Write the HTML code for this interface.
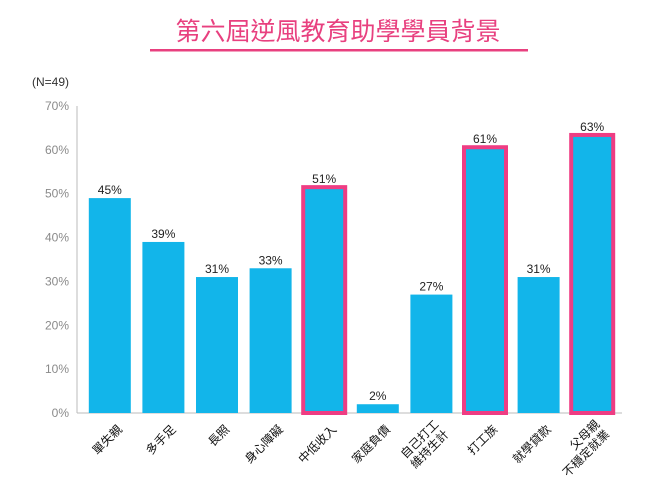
<!DOCTYPE html>
<html><head><meta charset="utf-8">
<style>
body{margin:0;background:#fff;width:660px;height:491px;overflow:hidden;font-family:"Liberation Sans","Noto Sans CJK TC",sans-serif;}
</style></head>
<body>
<svg width="660" height="491" xmlns="http://www.w3.org/2000/svg">
<text x="338" y="40" text-anchor="middle" font-size="25" fill="#e8407f" font-family="Liberation Sans, Noto Sans CJK TC, sans-serif">第六屆逆風教育助學學員背景</text>
<rect x="150" y="49" width="378" height="2.5" fill="#e8407f"/>
<text x="32" y="86" font-size="12" fill="#333">(N=49)</text>
<g id="yaxis"></g>
<g id="bars"></g>
<g id="xlabels"></g>
</svg>
<script>
const categories=[["單失親"],["多手足"],["長照"],["身心障礙"],["中低收入"],["家庭負債"],["自己打工","維持生計"],["打工族"],["就學貸款"],["父母親","不穩定就業"]];
const values=[49,39,31,33,51.5,2,27,60.6,31,63.4];
const valueLabels=["45%","39%","31%","33%","51%","2%","27%","61%","31%","63%"];
const highlighted=[false,false,false,false,true,false,false,true,false,true];
const yTicks=[0,10,20,30,40,50,60,70];
const tickLabels=["0%","10%","20%","30%","40%","50%","60%","70%"];

const NS="http://www.w3.org/2000/svg";
const y0=413,pxPer=307/70,xAxis=77,band=53.6,xStart=83,bw=42;
const yScale=v=>y0-v*pxPer;
const xCenter=i=>xStart+band*i+band/2;
function mk(tag,attrs,parent){const e=document.createElementNS(NS,tag);for(const k in attrs)e.setAttribute(k,attrs[k]);parent.appendChild(e);return e;}
const ya=document.getElementById('yaxis'),bg=document.getElementById('bars'),xl=document.getElementById('xlabels');
yTicks.forEach((t,i)=>{
  const tx=mk('text',{x:69,y:yScale(t)+4,'text-anchor':'end','font-size':12,fill:'#8a8a8a'},ya);
  
  
  tx.textContent=tickLabels[i];
});
const yl=mk('line',{x1:xAxis,x2:xAxis,y1:yScale(70),y2:y0,stroke:'#bbb','stroke-width':1},ya);


const xline=mk('line',{x1:xAxis,x2:xStart+band*categories.length+3,y1:y0,y2:y0,stroke:'#bbb','stroke-width':1},ya);


values.forEach((v,i)=>{
  const cx=xCenter(i),top=yScale(v);
  const r=mk('rect',{x:cx-bw/2,y:top,width:bw,height:y0-top,fill:'#12b5ea'},bg);
  if(highlighted[i]){r.setAttribute('stroke','#ee3d83');r.setAttribute('stroke-width','4');}
  
  
  const t=mk('text',{x:cx,y:top-4,'text-anchor':'middle','font-size':12,fill:'#222'},bg);
  
  
  t.textContent=valueLabels[i];
  const g=mk('g',{transform:`translate(${cx+6},${y0+10}) rotate(-45)`},xl);
  
  
  categories[i].forEach((line,j)=>{
    const lt=mk('text',{x:0,y:10+j*14-(categories[i].length-1)*7,'text-anchor':'end','font-size':12,fill:'#111'},g);
    lt.textContent=line;
  });
});
</script>
</body></html>
